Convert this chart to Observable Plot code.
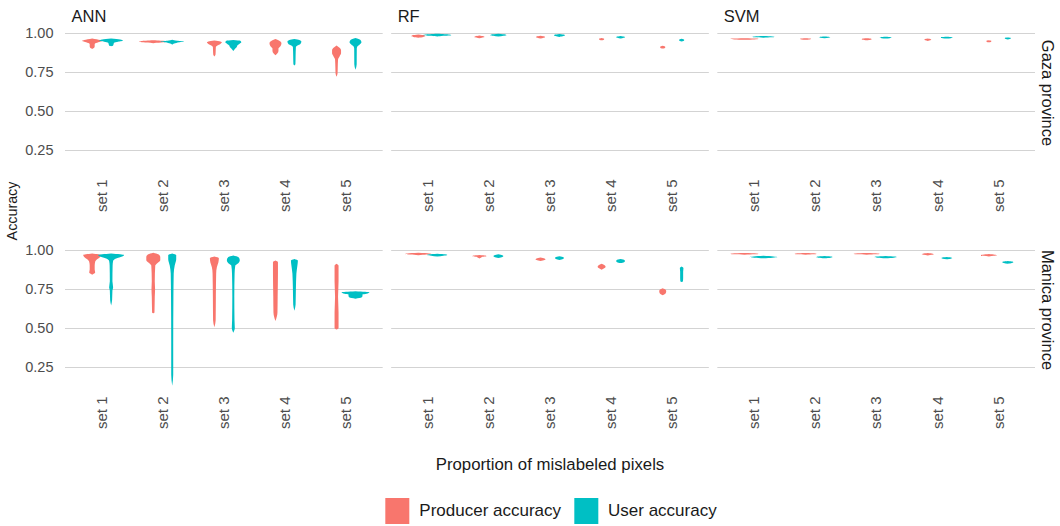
<!DOCTYPE html>
<html>
<head>
<meta charset="utf-8">
<script src="https://cdn.jsdelivr.net/npm/d3@7"></script>
<script src="https://cdn.jsdelivr.net/npm/@observablehq/plot@0.6"></script>
<style>
  html, body { margin: 0; padding: 0; background: #fff; }
  body { font-family: "Liberation Sans", Arial, Helvetica, sans-serif; }
  #wrap { position: relative; width: 1060px; height: 526px; overflow: hidden; }
  #chart svg { display: block; }
  #ytitle { position: absolute; left: 12px; top: 211px; transform: translate(-50%, -50%) rotate(-90deg); font-size: 14.3px; color: #1a1a1a; white-space: nowrap; }
  #xtitle { position: absolute; left: 550px; top: 465px; transform: translate(-50%, -50%); font-size: 16.8px; color: #1a1a1a; white-space: nowrap; }
  #legend { position: absolute; left: 551px; top: 511px; transform: translate(-50%, -50%); display: flex; align-items: center; font-size: 17px; color: #1a1a1a; white-space: nowrap; }
  .sw { width: 24px; height: 26px; display: inline-block; margin-right: 10px; }
  .item { display: flex; align-items: center; margin-right: 13px; }
  .item:last-child { margin-right: 0; }
</style>
</head>
<body>
<div id="wrap">
  <div id="chart"></div>
  <div id="ytitle">Accuracy</div>
  <div id="xtitle">Proportion of mislabeled pixels</div>
  <div id="legend"></div>
</div>
<script>
// ---- categories ----
const models = ["ANN", "RF", "SVM"];
const provinces = ["Gaza province", "Manica province"];
const sets = [1, 2, 3, 4, 5];
const setLabels = ["set 1", "set 2", "set 3", "set 4", "set 5"];
const metrics = ["Producer accuracy", "User accuracy"];
const metricColors = ["#F8766D", "#00BFC4"];
const yTicks = [0.25, 0.50, 0.75, 1.00];

// ---- violin profiles: [set, metric (P = producer, U = user), [[accuracy, density], ...]] ----
const annGaza = [
  [1, "P", [[.965,0],[.955,8],[.95,10],[.94,6],[.93,2.5],[.915,2.5],[.905,2],[.898,0]]],
  [1, "U", [[.965,0],[.958,9],[.95,12],[.944,7],[.938,3],[.93,2.5],[.92,2],[.915,0]]],
  [2, "P", [[.953,0],[.948,12],[.944,14],[.94,10],[.935,0]]],
  [2, "U", [[.957,0],[.95,5],[.945,12],[.94,7],[.932,2],[.925,0]]],
  [3, "P", [[.952,0],[.946,6],[.94,7.5],[.93,6],[.92,3],[.91,1.5],[.88,1.3],[.86,1.1],[.85,0]]],
  [3, "U", [[.955,0],[.95,7],[.94,8],[.93,6],[.92,4],[.91,3.5],[.9,2],[.885,0]]],
  [4, "P", [[.962,0],[.952,3.5],[.935,6],[.915,5],[.9,3],[.885,3],[.87,2],[.857,0]]],
  [4, "U", [[.962,0],[.955,5],[.945,7],[.93,6],[.92,3],[.91,1.5],[.85,1.2],[.8,1],[.792,0]]],
  [5, "P", [[.92,0],[.905,3],[.89,4.5],[.87,4.5],[.85,3],[.83,1.5],[.78,1.2],[.74,1],[.72,0]]],
  [5, "U", [[.968,0],[.955,5],[.94,6],[.925,4],[.915,2],[.9,1.3],[.8,1.2],[.765,0]]]
];
const annManica = [
  [1, "P", [[.978,0],[.968,9],[.955,8],[.94,5],[.925,3],[.9,2.5],[.875,2.5],[.855,3],[.842,0]]],
  [1, "U", [[.978,0],[.968,13],[.958,11],[.945,5],[.93,2],[.9,1.5],[.8,1.3],[.76,2],[.74,1.3],[.68,1],[.645,0]]],
  [2, "P", [[.982,0],[.972,5],[.955,7],[.935,7],[.915,4],[.9,2],[.8,1.5],[.75,1.8],[.7,1.5],[.6,1.2],[.595,0]]],
  [2, "U", [[.978,0],[.968,4],[.94,4],[.9,2.5],[.85,1.5],[.7,1.2],[.4,1],[.2,1],[.13,0]]],
  [3, "P", [[.958,0],[.948,4.5],[.92,4],[.89,2.5],[.85,1.8],[.7,1.5],[.55,1.3],[.505,0]]],
  [3, "U", [[.965,0],[.955,5],[.935,6.5],[.915,5],[.9,2],[.85,1.3],[.7,1],[.55,1.2],[.5,1.5],[.47,0]]],
  [4, "P", [[.932,0],[.922,2.5],[.85,2.5],[.7,2.2],[.6,2],[.545,0]]],
  [4, "U", [[.942,0],[.932,3.5],[.9,3],[.85,2],[.75,1.5],[.65,1.2],[.61,0]]],
  [5, "P", [[.912,0],[.9,2],[.8,2],[.7,1.5],[.6,2],[.5,2],[.49,0]]],
  [5, "U", [[.735,0],[.728,14],[.72,11],[.715,7],[.705,7],[.695,6],[.688,0]]]
];
const rfGaza = [
  [1, "P", [[.99,0],[.985,6],[.98,7],[.975,5],[.97,0]]],
  [1, "U", [[.995,0],[.99,12],[.986,14],[.982,6],[.977,0]]],
  [2, "P", [[.984,0],[.979,4],[.975,5],[.971,3],[.966,0]]],
  [2, "U", [[.995,0],[.99,7],[.986,8],[.982,5],[.977,0]]],
  [3, "P", [[.982,0],[.977,4],[.973,4.5],[.969,3],[.964,0]]],
  [3, "U", [[.993,0],[.988,5],[.985,5.5],[.98,4],[.975,0]]],
  [4, "P", [[.968,0],[.963,2.5],[.959,2.5],[.953,0]]],
  [4, "U", [[.981,0],[.976,4],[.973,4.5],[.969,3],[.964,0]]],
  [5, "P", [[.918,0],[.912,2.5],[.906,2.5],[.9,0]]],
  [5, "U", [[.963,0],[.957,2.5],[.952,2.5],[.945,0]]]
];
const rfManica = [
  [1, "P", [[.982,0],[.978,11],[.975,13],[.971,8],[.967,0]]],
  [1, "U", [[.976,0],[.972,8],[.968,10],[.963,6],[.958,0]]],
  [2, "P", [[.968,0],[.964,6],[.96,7],[.956,3],[.95,1.5],[.946,0]]],
  [2, "U", [[.972,0],[.966,4],[.961,5],[.955,4],[.949,0]]],
  [3, "P", [[.952,0],[.946,4],[.941,5],[.936,4],[.93,0]]],
  [3, "U", [[.96,0],[.953,4],[.948,4.5],[.942,3.5],[.936,0]]],
  [4, "P", [[.912,0],[.903,3],[.893,4],[.884,3],[.874,0]]],
  [4, "U", [[.942,0],[.935,4],[.929,4.5],[.922,3.5],[.916,0]]],
  [5, "P", [[.755,0],[.745,3],[.735,3.5],[.722,3],[.71,0]]],
  [5, "U", [[.895,0],[.885,1.8],[.86,1.5],[.82,1.5],[.8,1.3],[.795,0]]]
];
const svmGaza = [
  [1, "P", [[.967,0],[.964,12],[.962,14],[.959,10],[.956,0]]],
  [1, "U", [[.98,0],[.977,9],[.975,11],[.972,8],[.969,0]]],
  [2, "P", [[.967,0],[.964,5],[.962,5.5],[.959,4],[.956,0]]],
  [2, "U", [[.978,0],[.975,5],[.972,6],[.969,4],[.966,0]]],
  [3, "P", [[.966,0],[.963,4.5],[.96,5],[.957,4],[.953,0]]],
  [3, "U", [[.976,0],[.973,5],[.97,6],[.967,4],[.964,0]]],
  [4, "P", [[.964,0],[.96,3],[.957,3.5],[.953,2.5],[.949,0]]],
  [4, "U", [[.976,0],[.973,5],[.97,6],[.967,4],[.964,0]]],
  [5, "P", [[.954,0],[.95,2.5],[.947,2.5],[.943,2],[.94,0]]],
  [5, "U", [[.971,0],[.968,3],[.965,3],[.962,2],[.959,0]]]
];
const svmManica = [
  [1, "P", [[.98,0],[.977,12],[.975,14],[.972,10],[.969,0]]],
  [1, "U", [[.963,0],[.959,10],[.955,14],[.951,9],[.947,0]]],
  [2, "P", [[.98,0],[.977,10],[.975,11],[.972,8],[.969,0]]],
  [2, "U", [[.962,0],[.958,7],[.955,8],[.951,6],[.947,0]]],
  [3, "P", [[.98,0],[.977,11],[.975,13],[.972,9],[.969,0]]],
  [3, "U", [[.962,0],[.958,9],[.955,11],[.951,8],[.947,0]]],
  [4, "P", [[.98,0],[.976,5],[.973,6],[.969,4],[.965,0]]],
  [4, "U", [[.955,0],[.951,5],[.948,5.5],[.944,4],[.94,0]]],
  [5, "P", [[.974,0],[.97,6],[.967,8],[.963,5],[.959,0]]],
  [5, "U", [[.93,0],[.926,4.5],[.922,5.5],[.917,4],[.912,0]]]
];

// ---- build long table ----
const panels = [
  ["ANN", "Gaza province", annGaza], ["RF", "Gaza province", rfGaza], ["SVM", "Gaza province", svmGaza],
  ["ANN", "Manica province", annManica], ["RF", "Manica province", rfManica], ["SVM", "Manica province", svmManica]
];
const rows = panels.flatMap(([model, province, violins]) =>
  violins.flatMap(([set, m, prof]) =>
    prof.slice().sort((a, b) => a[0] - b[0]).map(([v, d]) => ({
      model, province, set,
      metric: m === "P" ? metrics[0] : metrics[1],
      v, d, key: model + "|" + province + "|" + set + "|" + m
    }))
  )
);

const dodge = {[metrics[0]]: -0.155, [metrics[1]]: 0.155};
const densScale = 1 / 61.2; // density units -> category units

const chart = Plot.plot({
  width: 1060,
  height: 445,
  marginLeft: 65,
  marginRight: 25,
  marginTop: 28,
  marginBottom: 51,
  style: {fontFamily: "Liberation Sans, Arial, Helvetica, sans-serif", background: "#fff"},
  fx: {domain: models, paddingInner: 0.026, paddingOuter: 0, axis: null, round: false},
  fy: {domain: provinces, paddingInner: 0.3134, paddingOuter: 0, axis: null, round: false},
  x: {domain: [0.4, 5.6], axis: null},
  y: {domain: [0.077, 1.032], axis: null},
  color: {domain: metrics, range: metricColors},
  marks: [
    Plot.gridY(yTicks, {stroke: "#d3d3d3", strokeOpacity: 1, strokeWidth: 1.1}),
    Plot.axisY(yTicks, {tickFormat: d3.format(".2f"), tickSize: 0, tickPadding: 12, fill: "#4d4d4d", fontSize: 14.5, label: null}),
    Plot.areaX(rows, {
      fx: "model", fy: "province", y: "v",
      x1: r => r.set + dodge[r.metric] - r.d * densScale,
      x2: r => r.set + dodge[r.metric] + r.d * densScale,
      z: "key", fill: "metric", curve: "monotone-y"
    }),
    Plot.text(sets, {
      x: d => d, text: d => setLabels[d - 1], frameAnchor: "bottom",
      rotate: -90, textAnchor: "end", lineAnchor: "middle", dy: 2,
      fontSize: 15, fill: "#4d4d4d"
    }),
    Plot.text(models, {
      fx: d => d, fy: () => provinces[0], text: d => d,
      frameAnchor: "top-left", textAnchor: "start", lineAnchor: "bottom",
      dx: 6, dy: -7, fontSize: 16.5, fill: "#1a1a1a"
    }),
    Plot.text(provinces, {
      fy: d => d, fx: () => models[2], text: d => d,
      frameAnchor: "right", rotate: 90, textAnchor: "middle", lineAnchor: "middle",
      dx: 12, dy: -10, fontSize: 16.5, fill: "#1a1a1a"
    })
  ]
});
document.getElementById("chart").appendChild(chart);

// legend
const legend = document.getElementById("legend");
metrics.forEach((m, i) => {
  const item = document.createElement("div");
  item.className = "item";
  const sw = document.createElement("span");
  sw.className = "sw";
  sw.style.background = metricColors[i];
  const lab = document.createElement("span");
  lab.textContent = m;
  item.appendChild(sw);
  item.appendChild(lab);
  legend.appendChild(item);
});
</script>
</body>
</html>
